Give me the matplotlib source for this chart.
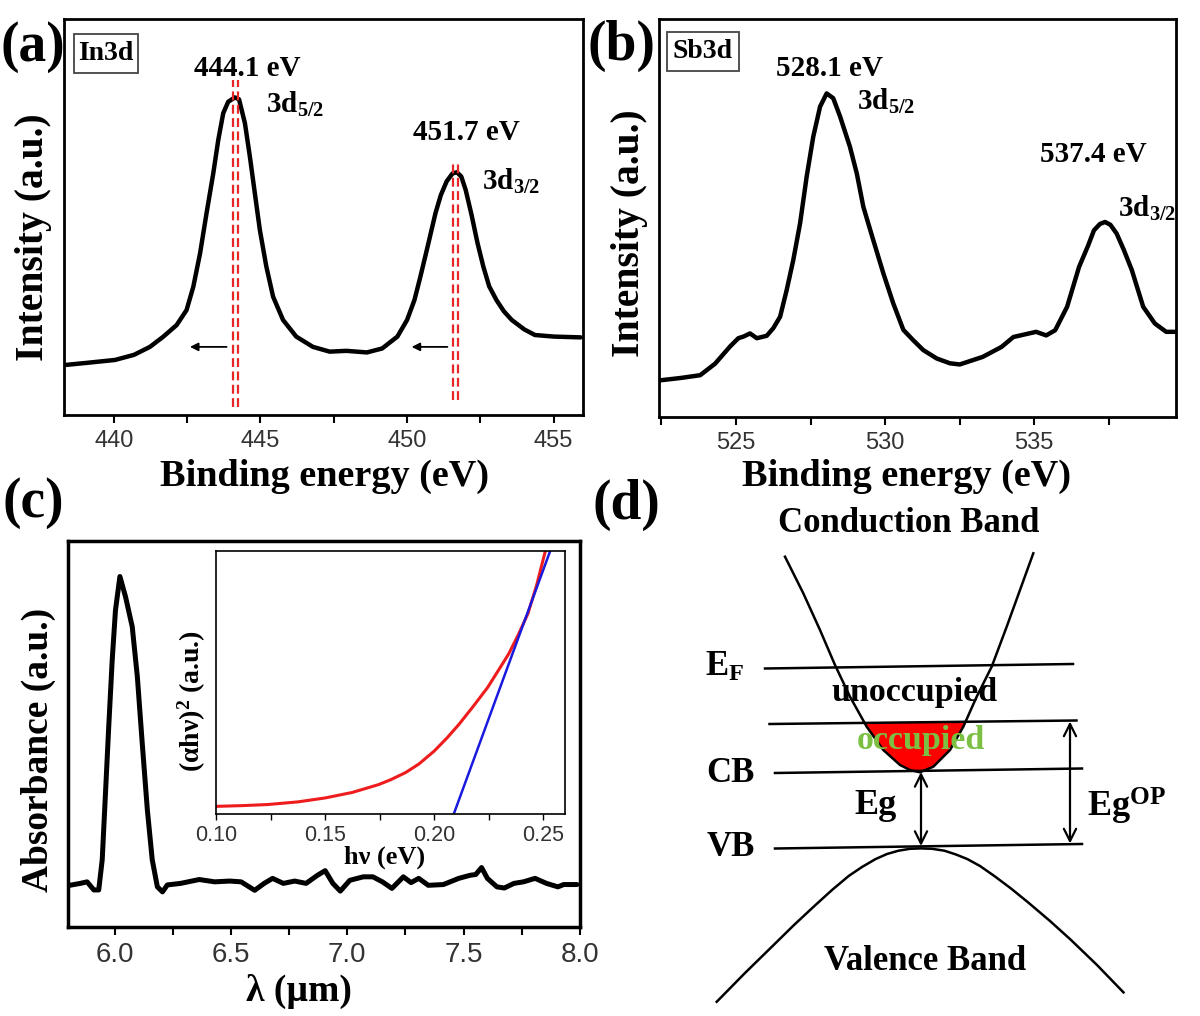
import matplotlib
matplotlib.use('Agg')
import matplotlib.pyplot as plt
import numpy as np
from matplotlib.ticker import MultipleLocator, FormatStrFormatter
from matplotlib.patches import Rectangle

plt.rcParams['font.family'] = ['Liberation Serif', 'DejaVu Serif']
plt.rcParams['font.weight'] = 'bold'
plt.rcParams['mathtext.fontset'] = 'custom'
plt.rcParams['mathtext.rm'] = 'Liberation Serif:bold'
plt.rcParams['mathtext.bf'] = 'Liberation Serif:bold'
plt.rcParams['mathtext.it'] = 'Liberation Serif:bold'

# (a) In3d XPS
in_x = [438.3, 439.12, 440.04, 440.69, 441.23, 441.69, 442.14, 442.48, 442.71, 442.94,
        443.16, 443.39, 443.56, 443.73, 443.9, 444.13, 444.27, 444.47, 444.64, 444.81,
        444.98, 445.2, 445.43, 445.77, 446.22, 446.79, 447.36, 447.93, 448.63, 449.15,
        449.67, 450.0, 450.25, 450.45, 450.7, 450.97, 451.15, 451.35, 451.55, 451.7,
        451.85, 452.0, 452.2, 452.4, 452.6, 452.8, 453.05, 453.3, 453.57, 454.0,
        454.36, 455.01, 455.92]
in_y = [12.6, 13.2, 13.9, 15.2, 17.2, 19.8, 22.7, 26.5, 32.4, 40.8,
        50.9, 61.0, 69.4, 76.2, 79.1, 80.2, 79.7, 73.7, 65.2, 55.9,
        46.7, 37.5, 29.9, 24.0, 19.8, 17.2, 16.0, 16.2, 15.8, 16.8,
        19.8, 24.0, 29.0, 34.8, 42.5, 51.0, 55.5, 59.0, 61.0, 61.3,
        60.2, 56.8, 50.5, 43.5, 37.5, 32.5, 29.0, 26.2, 24.0, 21.6,
        20.2, 19.8, 19.6]
in_marks = [(444.05, 444.25, 84.6, 2.0), (451.55, 451.75, 63.9, 3.8)]
in_shift = [(443.94, 442.5), (451.47, 450.06)]
shift_level = 17.2

# (b) Sb3d XPS
sb_x = [522.44, 523.14, 523.8, 524.3, 524.8, 525.08, 525.25, 525.47, 525.7, 526.03,
        526.25, 526.48, 526.7, 526.92, 527.15, 527.37, 527.59, 527.82, 528.04, 528.26,
        528.49, 528.82, 529.05, 529.27, 529.6, 529.94, 530.27, 530.61, 530.94, 531.28,
        531.73, 532.17, 532.5, 533.27, 533.9, 534.3, 535.06, 535.4, 535.7, 536.1,
        536.5, 536.8, 537.0, 537.2, 537.37, 537.55, 537.76, 538.0, 538.27, 538.65,
        539.04, 539.42, 539.75]
sb_y = [9.2, 9.8, 10.5, 13.4, 17.7, 19.8, 20.2, 21.0, 19.8, 20.4,
        22.3, 25.2, 31.9, 39.4, 48.7, 60.4, 70.4, 78.0, 81.3, 80.1,
        75.5, 67.9, 61.2, 52.8, 44.5, 36.1, 28.6, 21.9, 19.3, 16.8,
        14.7, 13.5, 13.2, 15.1, 17.6, 20.1, 21.4, 20.5, 21.8, 27.7,
        37.7, 43.0, 46.9, 48.5, 49.0, 48.3, 46.1, 42.0, 36.9, 27.7,
        23.5, 21.4, 21.4]

# (c) IR absorbance
ir_x = [5.807, 5.853, 5.882, 5.911, 5.932, 5.947, 5.961, 5.975, 5.99, 6.004,
        6.023, 6.047, 6.076, 6.098, 6.119, 6.141, 6.162, 6.184, 6.206, 6.227,
        6.284, 6.364, 6.43, 6.495, 6.544, 6.602, 6.643, 6.679, 6.725, 6.774,
        6.823, 6.872, 6.905, 6.938, 6.97, 7.011, 7.069, 7.11, 7.151, 7.192,
        7.241, 7.274, 7.307, 7.348, 7.413, 7.479, 7.528, 7.552, 7.577, 7.602,
        7.643, 7.675, 7.716, 7.757, 7.807, 7.856, 7.905, 7.93, 7.987]
ir_y = [10.8, 11.3, 11.7, 9.6, 9.6, 17.4, 34.6, 51.9, 69.2, 82.1,
        90.8, 85.6, 77.8, 64.8, 47.6, 30.3, 17.4, 10.4, 9.1, 10.9,
        11.3, 12.3, 11.7, 11.9, 11.7, 9.5, 11.3, 12.6, 11.3, 11.9,
        11.3, 13.4, 14.6, 11.3, 9.3, 12.1, 13.0, 13.0, 11.7, 10.0,
        13.0, 11.5, 12.6, 10.8, 11.0, 12.6, 13.4, 13.6, 15.4, 12.6,
        10.4, 10.1, 11.3, 11.7, 12.6, 11.3, 10.4, 11.0, 11.0]

# inset: Tauc plot
tauc_x = [0.10, 0.1125, 0.1237, 0.1375, 0.15, 0.1625, 0.1746, 0.18, 0.1868, 0.193,
          0.20, 0.206, 0.2114, 0.218, 0.2246, 0.229, 0.2342, 0.2385, 0.243, 0.247,
          0.2509, 0.2525]
tauc_y = [2.9, 3.2, 3.6, 4.6, 6.1, 8.2, 11.2, 13.0, 15.7, 19.0,
          23.9, 29.0, 34.1, 41.0, 48.2, 54.0, 60.9, 68.0, 76.2, 87.0,
          99.7, 103.0]
fit_x = [0.209, 0.2532]
fit_y = [0.0, 100.0]

# (d) band schematic (pixel-like units, energy grows upward = smaller value)
cb_k = [785, 803.3, 820, 835, 850, 866.7, 883.3, 900, 910, 920,
        933.3, 950, 963.3, 976.7, 991.7, 1006.7, 1020, 1033.3]
cb_e = [556.7, 593.3, 630, 665, 696.7, 726.7, 750, 765, 770, 772.3,
        766.7, 750, 726.7, 696.7, 666.7, 626.7, 590, 553.3]
vb_k = [716.7, 745, 772.2, 794, 814.3, 832, 848.8, 862, 875.5, 887, 898.5, 910, 920.7,
        932, 944.4, 956, 967.4, 980, 994.2, 1011, 1028.6, 1050, 1070.7, 1097, 1123.5]
vb_e = [1001.8, 973, 946.4, 925, 906.1, 890, 875.9, 867, 859.1, 854, 850.7, 848.8, 848.4,
        848.8, 850.7, 854.5, 859.1, 866, 875.9, 888.5, 902.8, 921, 939.7, 965, 992.4]
ef_line = ([765, 1073], [668.5, 664])
op_line = ([769.5, 1076.5], [724, 720.5])
cbm_line = ([775, 1082], [773, 768.5])
vbm_line = ([775, 1082], [848.5, 844])

W, H = 1200, 1016


def box(l, t, r, b):
    return [l / W, 1 - b / H, (r - l) / W, (b - t) / H]


def ptxt(x, y, s, size, ha='center', va='center', **kw):
    fig.text(x / W, 1 - y / H, s, fontsize=size, ha=ha, va=va, **kw)


def style_axes(ax, tick_size, lw=2.0):
    for sp in ax.spines.values():
        sp.set_linewidth(lw)
    ax.tick_params(axis='x', which='both', direction='out', length=6, width=1.5,
                   labelsize=tick_size, labelcolor='#333333', pad=5)
    ax.tick_params(axis='y', which='both', left=False, labelleft=False)
    for lab in ax.get_xticklabels():
        lab.set_family('Liberation Sans')
        lab.set_weight('normal')


fig = plt.figure(figsize=(12, 10.16), dpi=100)

# ---- (a)
ax = fig.add_axes(box(64, 19, 583, 415))
ax.plot(in_x, in_y, color='black', lw=3.2, solid_joinstyle='round', solid_capstyle='round')
for x1, x2, top, bot in in_marks:
    for xx in (x1, x2):
        ax.plot([xx, xx], [bot, top], color='#e8262a', lw=1.6, ls=(0, (4, 2)))
for x0, x1 in in_shift:
    ax.annotate('', xy=(x1, shift_level), xytext=(x0, shift_level),
                arrowprops=dict(arrowstyle='-|>', color='black', lw=1.3, mutation_scale=12))
ax.set_xlim(438.3, 456.0)
ax.set_ylim(0, 100)
ax.xaxis.set_major_locator(MultipleLocator(5))
ax.xaxis.set_minor_locator(MultipleLocator(2.5))
style_axes(ax, 17)

ptxt(33, 47, '(a)', 40)
fig.patches.append(Rectangle((74 / W, 1 - 73 / H), 64 / W, 39 / H, transform=fig.transFigure,
                             fill=False, edgecolor='#444444', lw=1.3))
ptxt(106, 54, 'In3d', 20)
ptxt(247, 68, '444.1 eV', 21)
ptxt(266, 113, '3d$_{5/2}$', 21, ha='left', va='baseline')
ptxt(466, 133, '451.7 eV', 21)
ptxt(482, 190, '3d$_{3/2}$', 21, ha='left', va='baseline')
ptxt(34, 237, 'Intensity (a.u.)', 28.5, rotation=90)
ptxt(325, 476, 'Binding energy (eV)', 27.5)

# ---- (b)
ax = fig.add_axes(box(659, 19, 1176, 417))
ax.plot(sb_x, sb_y, color='black', lw=3.2, solid_joinstyle='round', solid_capstyle='round')
ax.set_xlim(522.42, 539.75)
ax.set_ylim(0, 100)
ax.xaxis.set_major_locator(MultipleLocator(5))
ax.xaxis.set_minor_locator(MultipleLocator(2.5))
style_axes(ax, 17)

ptxt(621, 46, '(b)', 40)
fig.patches.append(Rectangle((667 / W, 1 - 71 / H), 72 / W, 39 / H, transform=fig.transFigure,
                             fill=False, edgecolor='#444444', lw=1.3))
ptxt(703, 52, 'Sb3d', 20)
ptxt(829, 68, '528.1 eV', 21)
ptxt(857, 110, '3d$_{5/2}$', 21, ha='left', va='baseline')
ptxt(1093, 155, '537.4 eV', 21)
ptxt(1118, 217, '3d$_{3/2}$', 21, ha='left', va='baseline')
ptxt(630, 233, 'Intensity (a.u.)', 28.5, rotation=90)
ptxt(906, 476, 'Binding energy (eV)', 27.5)

# ---- (c)
ax = fig.add_axes(box(68, 541, 580, 927))
ax.plot(ir_x, ir_y, color='black', lw=3.6, solid_joinstyle='round', solid_capstyle='round')
ax.set_xlim(5.8, 8.0)
ax.set_ylim(0, 100)
ax.xaxis.set_major_locator(MultipleLocator(0.5))
ax.xaxis.set_minor_locator(MultipleLocator(0.25))
ax.xaxis.set_major_formatter(FormatStrFormatter('%.1f'))
style_axes(ax, 20, lw=2.5)

ptxt(33, 503, '(c)', 40)
ptxt(38, 750, 'Absorbance (a.u.)', 27, rotation=90)
ptxt(299, 991, 'λ (µm)', 27)

# inset
ins = fig.add_axes(box(216, 551, 565, 814))
ins.plot(tauc_x, tauc_y, color='#ee1c1c', lw=2.2)
ins.plot(fit_x, fit_y, color='#1a1adf', lw=1.8)
ins.set_xlim(0.10, 0.26)
ins.set_ylim(0, 100)
ins.xaxis.set_major_locator(MultipleLocator(0.05))
ins.xaxis.set_minor_locator(MultipleLocator(0.025))
ins.xaxis.set_major_formatter(FormatStrFormatter('%.2f'))
style_axes(ins, 15.5, lw=1.2)
ins.tick_params(axis='x', which='both', length=4, width=1.0, pad=4)
ptxt(192, 701, '(αhν)$^2$ (a.u.)', 20, rotation=90)
ptxt(385, 857, 'hν (eV)', 19)

# ---- (d)
axd = fig.add_axes(box(600, 490, 1200, 1016))
axd.set_xlim(600, 1200)
axd.set_ylim(1016, 490)
axd.set_axis_off()

ck = np.array(cb_k)
ce = np.array(cb_e)
line_e = np.interp(ck, op_line[0], op_line[1])
axd.fill_between(ck, ce, line_e, where=ce >= line_e, interpolate=True, color='#ff0000', lw=0)
axd.plot(cb_k, cb_e, color='black', lw=1.8, solid_joinstyle='round')
axd.plot(vb_k, vb_e, color='black', lw=1.8, solid_joinstyle='round')
for xs, ys in (ef_line, op_line, cbm_line, vbm_line):
    axd.plot(xs, ys, color='black', lw=1.8)

axd.annotate('', xy=(921, 772), xytext=(921, 846),
             arrowprops=dict(arrowstyle='<->', color='black', lw=1.6, mutation_scale=22,
                             shrinkA=0, shrinkB=0))
axd.annotate('', xy=(1070, 721.5), xytext=(1070, 843.5),
             arrowprops=dict(arrowstyle='<->', color='black', lw=1.6, mutation_scale=22,
                             shrinkA=0, shrinkB=0))

ptxt(626, 505, '(d)', 40)
ptxt(909, 524, 'Conduction Band', 25)
ptxt(925, 962, 'Valence Band', 25)
ptxt(705, 676, 'E$_{\\mathrm{F}}$', 25, ha='left', va='baseline')
ptxt(915, 692, 'unoccupied', 24.5)
ptxt(921, 741, 'occupied', 24.5, color='#7cc043')
ptxt(730, 774, 'CB', 25)
ptxt(731, 847, 'VB', 25)
ptxt(876, 806, 'Eg', 26)
ptxt(1087, 817, 'Eg$^{\\mathrm{OP}}$', 26, ha='left', va='baseline')

fig.savefig('out.png', dpi=100)
